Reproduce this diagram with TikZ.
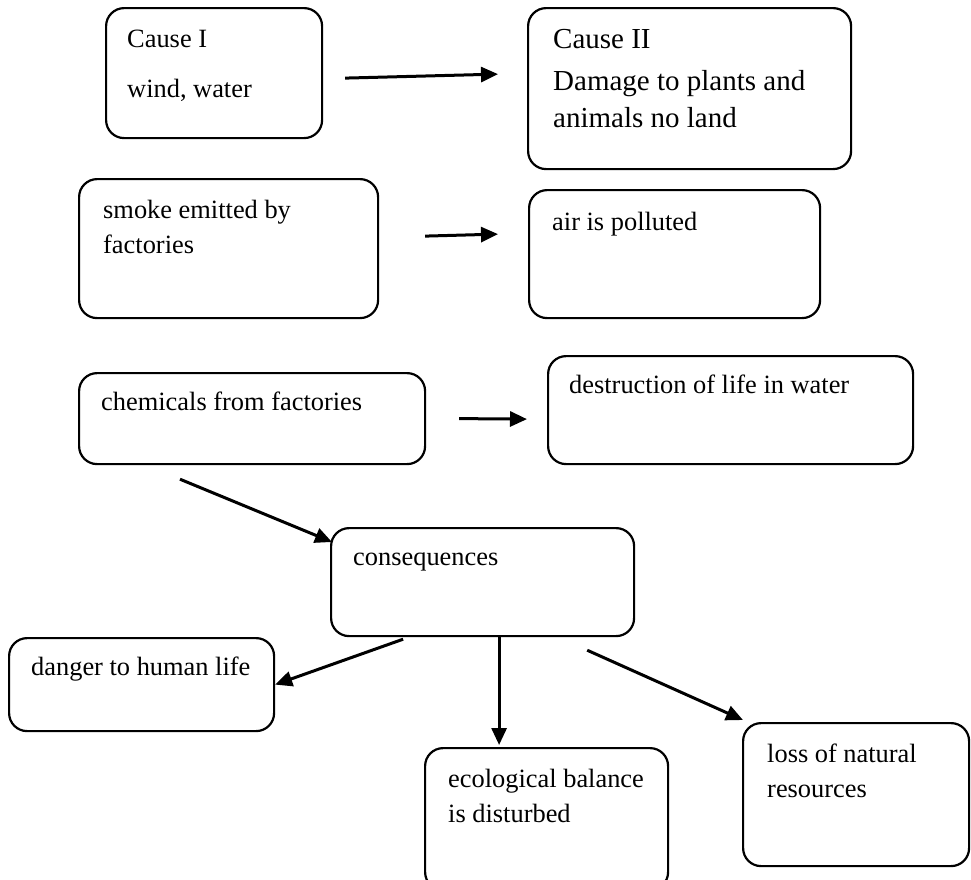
\documentclass[tikz,border=0pt]{standalone}
\usepackage{fontspec}
\setmainfont{Liberation Serif}
\usetikzlibrary{arrows.meta}

\tikzset{
    box/.style={draw, line width=2.2pt, rounded corners=18pt, inner sep=0pt, anchor=north west},
    txt/.style={anchor=base west, inner sep=0pt, align=left, font=\fontsize{26.4}{35}\selectfont},
    arr/.style={line width=3pt, -{Triangle[length=17pt,width=15pt]}}
}

\begin{document}
\begin{tikzpicture}[x=1pt, y=-1pt]
            \path[use as bounding box, clip] (0, 0) rectangle (971, 879);
            \fill[white] (0, 0) rectangle (971, 879);

            \node[box, minimum width=216, minimum height=130] (cause1) at (105, 7) {};
            \node[box, minimum width=323, minimum height=161] (cause2) at (527, 7) {};
            \node[box, minimum width=299, minimum height=139] (smoke) at (78, 178) {};
            \node[box, minimum width=291, minimum height=128] (air) at (528, 189) {};
            \node[box, minimum width=346, minimum height=91] (chem) at (78, 372) {};
            \node[box, minimum width=365, minimum height=108] (destr) at (547, 355) {};
            \node[box, minimum width=303, minimum height=108] (conseq) at (330, 527) {};
            \node[box, minimum width=265, minimum height=93] (danger) at (8, 637) {};
            \node[box, minimum width=243, minimum height=142] (eco) at (424, 747) {};
            \node[box, minimum width=226, minimum height=143] (loss) at (742, 722) {};

            % multi-line texts sit on the baseline of their last line
            \node[txt] (cause1txt) at ([shift={(22, 90)}]cause1.north west) {Cause I\\[15pt]wind, water};
            \node[txt, font=\fontsize{29}{37}\selectfont] (cause2txt) at ([shift={(26, 120)}]cause2.north west)
                {Cause II\\[5pt]Damage to plants and\\animals no land};
            \node[txt] (smoketxt) at ([shift={(25, 75)}]smoke.north west) {smoke emitted by\\factories};
            \node[txt] (airtxt) at ([shift={(24, 41)}]air.north west) {air is polluted};
            \node[txt] (chemtxt) at ([shift={(23, 38)}]chem.north west) {chemicals from factories};
            \node[txt] (destrtxt) at ([shift={(22, 38)}]destr.north west) {destruction of life in water};
            \node[txt] (conseqtxt) at ([shift={(23, 38)}]conseq.north west) {consequences};
            \node[txt] (dangertxt) at ([shift={(23, 38)}]danger.north west) {danger to human life};
            \node[txt] (ecotxt) at ([shift={(24, 75)}]eco.north west) {ecological balance\\is disturbed};
            \node[txt] (losstxt) at ([shift={(25, 75)}]loss.north west) {loss of natural\\resources};

            \draw[arr] ([shift={(22, 5)}]cause1.east) -- ([shift={(-29, -14.5)}]cause2.west);
            \draw[arr] ([shift={(46, -12.5)}]smoke.east) -- ([shift={(-30, -20)}]air.west);
            \draw[arr] ([shift={(33, 0)}]chem.east) -- ([shift={(-20, 9)}]destr.west);
            \draw[arr] ([shift={(102, 14)}]chem.south west) -- ([shift={(2, 15)}]conseq.north west);
            \draw[arr] ([shift={(-79.5, 2)}]conseq.south) -- (danger.east);
            \draw[arr] ([shift={(16.5, 0)}]conseq.south) -- ([shift={(-47.5, -2)}]eco.north);
            \draw[arr] ([shift={(-48, 13)}]conseq.south east) -- ([shift={(1, -2)}]loss.north west);
    \end{tikzpicture}
\end{document}
